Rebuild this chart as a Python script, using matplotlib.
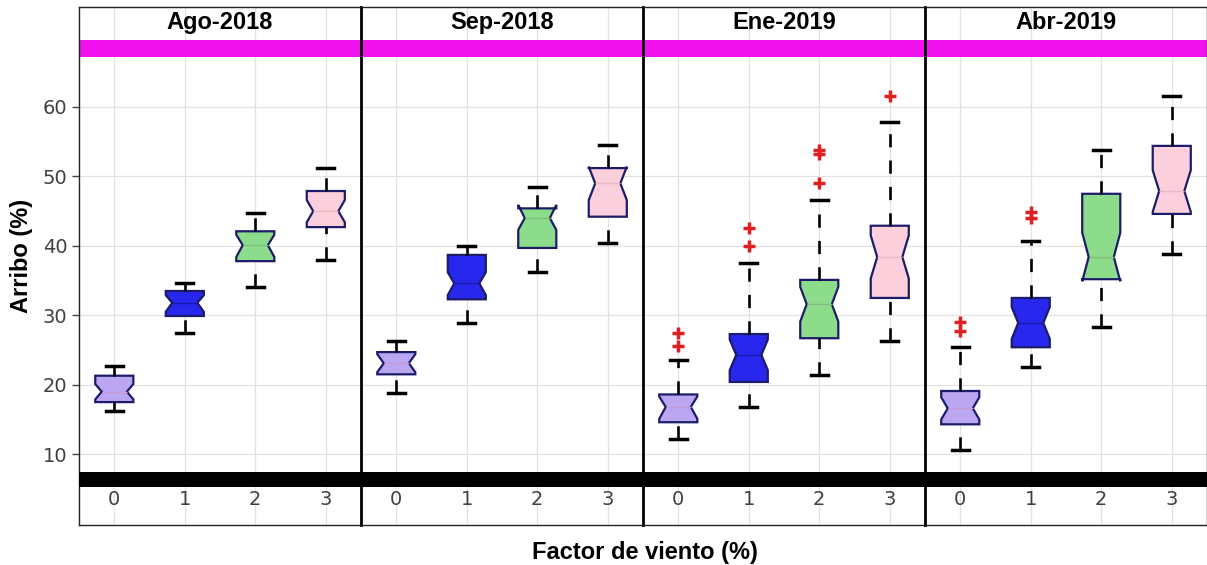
import numpy as np
import matplotlib.pyplot as plt

# ============================================================================
# DATOS
# ============================================================================

meses = ['Ago-2018', 'Sep-2018', 'Ene-2019', 'Abr-2019']
factores = [0, 1, 2, 3]
etiquetas_x = ['0', '1', '2', '3']

# cada fila: un mes; cada columna: factor de viento 0..3
mediana = [[19.0, 31.8, 40.1, 45.0],
           [23.1, 34.6, 44.0, 49.0],
           [16.8, 24.3, 31.6, 38.4],
           [16.6, 28.9, 38.4, 47.9]]
q1 = [[17.5, 29.9, 37.8, 42.7],
      [21.5, 32.3, 39.7, 44.2],
      [14.6, 20.4, 26.7, 32.5],
      [14.3, 25.4, 35.2, 44.6]]
q3 = [[21.3, 33.5, 42.1, 47.9],
      [24.7, 38.7, 45.4, 51.2],
      [18.6, 27.3, 35.1, 42.9],
      [19.1, 32.5, 47.5, 54.4]]
bigote_inf = [[16.2, 27.4, 34.1, 38.0],
              [18.8, 28.9, 36.2, 40.4],
              [12.2, 16.8, 21.4, 26.3],
              [10.6, 22.5, 28.3, 38.8]]
bigote_sup = [[22.7, 34.6, 44.7, 51.2],
              [26.3, 40.0, 48.5, 54.5],
              [23.5, 37.5, 46.6, 57.8],
              [25.4, 40.7, 53.8, 61.6]]
muesca_inf = [[17.9, 30.5, 38.4, 43.4],
              [21.8, 32.9, 42.3, 46.6],
              [15.1, 22.1, 29.1, 35.3],
              [15.0, 26.6, 34.9, 44.9]]
muesca_sup = [[20.1, 32.9, 41.6, 46.6],
              [24.4, 36.2, 45.9, 51.4],
              [18.3, 26.5, 34.1, 41.5],
              [18.2, 31.2, 41.9, 50.9]]
atipicos = [[[], [], [], []],
            [[], [], [], []],
            [[25.6, 27.4], [40.0, 42.6], [49.0, 53.2, 53.8], [61.6]],
            [[27.8, 29.0], [44.0, 44.9], [], []]]

# bandas horizontales
banda_sup = (67.2, 69.7)
banda_inf = (5.3, 7.4)

# ============================================================================
# ESTILO
# ============================================================================

ancho = 0.54
ancho_muesca = 0.66   # fraccion del ancho de la caja en la mediana
colores = ['#bba6f2', '#2727ee', '#8cdc8c', '#fccfdc']
medianas_col = ['#c79ad8', '#1a1ab0', '#7cc07c', '#eab8c6']
borde = '#1c1c6a'
fuente_neg = 'Liberation Sans'

plt.rcParams['font.family'] = 'DejaVu Sans'

fig, axes = plt.subplots(1, 4, sharey=True, figsize=(12.07, 5.65), dpi=100)
fig.subplots_adjust(left=0.0655, right=1.0, bottom=0.0708, top=0.9876, wspace=0)

for i, ax in enumerate(axes):
    stats = []
    for j in range(4):
        stats.append({
            'med': mediana[i][j], 'q1': q1[i][j], 'q3': q3[i][j],
            'whislo': bigote_inf[i][j], 'whishi': bigote_sup[i][j],
            'cilo': muesca_inf[i][j], 'cihi': muesca_sup[i][j],
            'fliers': atipicos[i][j],
        })

    bp = ax.bxp(stats, positions=factores, widths=ancho, capwidths=0.24,
                shownotches=True, patch_artist=True, manage_ticks=False,
                whiskerprops=dict(color='black', lw=1.9, linestyle=(0, (5, 5))),
                capprops=dict(color='black', lw=2.5),
                flierprops=dict(marker='+', markeredgecolor='#e02020',
                                markersize=8, markeredgewidth=2.5),
                zorder=3)

    for j, caja in enumerate(bp['boxes']):
        caja.set_facecolor(colores[j])
        caja.set_edgecolor(borde)
        caja.set_linewidth(1.6)
        # muesca menos profunda (estilo MATLAB)
        v = caja.get_path().vertices
        for k in (3, 8):
            signo = np.sign(v[k, 0] - factores[j])
            v[k, 0] = factores[j] + signo * ancho * ancho_muesca / 2
    for j, med in enumerate(bp['medians']):
        med.set_color(medianas_col[j])
        med.set_linewidth(1.0)
        med.set_xdata([factores[j] - ancho * ancho_muesca / 2,
                       factores[j] + ancho * ancho_muesca / 2])
    # el bigote inferior empieza el trazo desde la barra
    for k, w in enumerate(bp['whiskers']):
        if k % 2 == 0:
            w.set_ydata(w.get_ydata()[::-1])

    ax.axhspan(*banda_sup, color='#f012ec', lw=0, zorder=2)
    ax.axhspan(*banda_inf, color='black', lw=0, zorder=4)

    ax.set_xlim(-0.5, 3.5)
    ax.set_ylim(-0.2, 74.4)
    ax.set_xticks(factores)
    ax.set_xticklabels(etiquetas_x)
    ax.set_yticks([10, 20, 30, 40, 50, 60])
    ax.grid(True, color='#e2e2e2', lw=0.9, zorder=0)
    ax.set_axisbelow(True)

    ax.tick_params(axis='x', length=0, pad=-25, labelsize=14, colors='#404040')
    ax.tick_params(axis='y', direction='out', length=5, width=1,
                   labelsize=14, colors='#404040')

    for lado in ['top', 'bottom', 'left', 'right']:
        ax.spines[lado].set_color('#222222')
        ax.spines[lado].set_linewidth(1.0)
    if i > 0:
        ax.spines['left'].set_linewidth(2.0)
        ax.spines['left'].set_color('black')
        ax.tick_params(axis='y', length=0)
    if i < 3:
        ax.spines['right'].set_visible(False)

    ax.text(0.5, 0.971, meses[i], transform=ax.transAxes, ha='center',
            va='center', fontsize=17, fontweight='bold', family=fuente_neg)

axes[0].set_ylabel('Arribo (%)', fontsize=17, fontweight='bold', family=fuente_neg)
axes[0].yaxis.set_label_coords(-0.163, 0.52)

fig.text(0.534, 0.023, 'Factor de viento (%)', ha='center', va='center',
         fontsize=17, fontweight='bold', family=fuente_neg)

fig.savefig('out.png', dpi=100)
